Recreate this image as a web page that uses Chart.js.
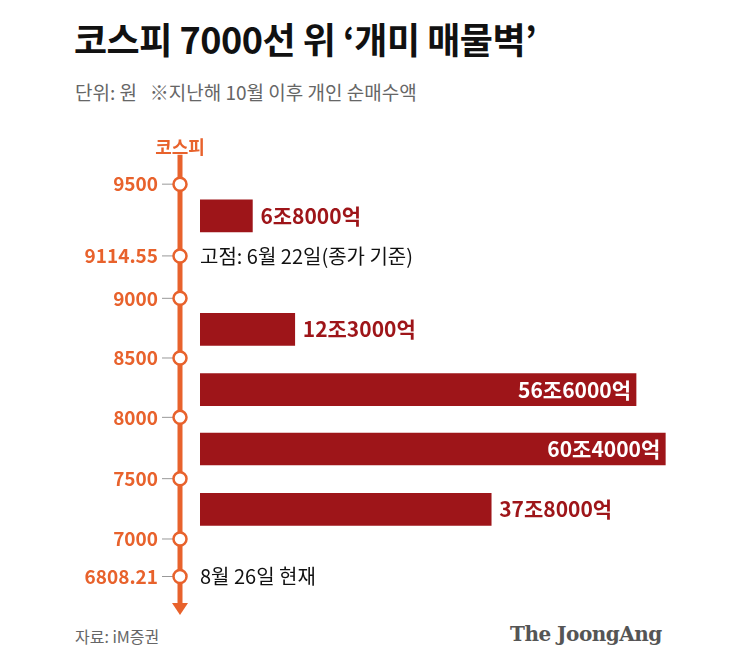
<!DOCTYPE html>
<html><head><meta charset="utf-8">
<script src="https://cdn.jsdelivr.net/npm/chart.js@4"></script>
<style>
body{margin:0;width:734px;height:668px;background:#fff;font-family:"Noto Sans CJK KR","Noto Sans",sans-serif;position:relative;overflow:hidden}
#wrap{position:absolute;left:0;top:0;width:734px;height:668px}
.t{position:absolute;white-space:nowrap}
</style></head><body>
<div class="t" style="left:74px;top:12px;font-size:36px;font-weight:700;color:#111;letter-spacing:-0.5px">코스피 7000선 위 ‘개미 매물벽’</div>
<div class="t" style="left:75px;top:78px;font-size:19px;color:#666">단위: 원 &nbsp;&nbsp;※지난해 10월 이후 개인 순매수액</div>
<div class="t" style="left:75px;top:624px;font-size:16px;color:#666">자료: iM증권</div>
<div class="t" style="left:510px;top:622px;font-size:20px;font-weight:700;color:#555;font-family:'DejaVu Serif','Liberation Serif',serif;letter-spacing:-0.5px">The JoongAng</div>
<div id="wrap"><canvas id="c" width="734" height="668"></canvas></div>
<script>
// kospi levels on the axis and their row positions
const levels=["9500","9114.55","9000","8500","8000","7500","7000","6808.21"];
const levelRows=[0,2.2,3.5,5.33,7.15,9.03,10.88,12.03];
// individual net buying (조원) per band
const amounts=[6.8,12.3,56.6,60.4,37.8];
const amountLabels=["6조8000억","12조3000억","56조6000억","60조4000억","37조8000억"];
const bandRows=[0.97,4.45,6.3,8.12,9.97];
const notes={"9114.55":"고점: 6월 22일(종가 기준)","6808.21":"8월 26일 현재"};

const orange="#e8622c",red="#9e1519";
const axisX=180;

const overlay={id:"overlay",
  beforeDatasetsDraw(ch){
    const {ctx,scales:{y}}=ch;
    ctx.save();
    const top=y.getPixelForValue(-0.9),bot=y.getPixelForValue(12.9);
    ctx.strokeStyle=orange;ctx.lineWidth=5;
    ctx.beginPath();ctx.moveTo(axisX,top);ctx.lineTo(axisX,bot);ctx.stroke();
    ctx.fillStyle=orange;ctx.beginPath();
    ctx.moveTo(axisX-8,bot-2);ctx.lineTo(axisX+8,bot-2);ctx.lineTo(axisX,bot+10);ctx.closePath();ctx.fill();
    ctx.font="bold 18px 'Noto Sans CJK KR'";ctx.textAlign="center";ctx.textBaseline="middle";
    ctx.fillText("코스피",axisX,y.getPixelForValue(-1.15));
    levels.forEach((l,i)=>{
      const py=y.getPixelForValue(levelRows[i]);
      ctx.strokeStyle="#999";ctx.lineWidth=1;
      ctx.beginPath();ctx.moveTo(162,py);ctx.lineTo(axisX,py);ctx.stroke();
      ctx.fillStyle=orange;ctx.font="bold 19px 'Noto Sans CJK KR'";ctx.textAlign="right";
      ctx.fillText(l,158,py);
      ctx.beginPath();ctx.arc(axisX,py,6.5,0,Math.PI*2);
      ctx.fillStyle="#fff";ctx.fill();ctx.strokeStyle=orange;ctx.lineWidth=2.5;ctx.stroke();
      if(notes[l]){ctx.fillStyle="#111";ctx.font="20px 'Noto Sans CJK KR'";ctx.textAlign="left";ctx.fillText(notes[l],200,py);}
    });
    ctx.restore();
  },
  afterDatasetsDraw(ch){
    const {ctx}=ch,meta=ch.getDatasetMeta(0);
    ctx.save();ctx.font="bold 21px 'Noto Sans CJK KR'";ctx.textBaseline="middle";
    meta.data.forEach((b,i)=>{
      const inside=amounts[i]>50;
      ctx.fillStyle=inside?"#fff":red;ctx.textAlign=inside?"right":"left";
      ctx.fillText(amountLabels[i],inside?b.x-5:b.x+8,b.y);
    });
    ctx.restore();
  }};

new Chart(document.getElementById("c"),{
  type:"bar",
  data:{datasets:[{data:amounts.map((v,i)=>({x:v,y:bandRows[i]})),backgroundColor:red,barThickness:32}]},
  options:{indexAxis:"y",responsive:false,animation:false,
    layout:{padding:{left:200,right:14,top:122,bottom:14}},
    plugins:{legend:{display:false},tooltip:{enabled:false}},
    scales:{x:{type:"linear",min:0,max:67.5,display:false},
            y:{type:"linear",min:-1,max:13.5,reverse:true,display:false}}},
  plugins:[overlay]
});
</script></body></html>
